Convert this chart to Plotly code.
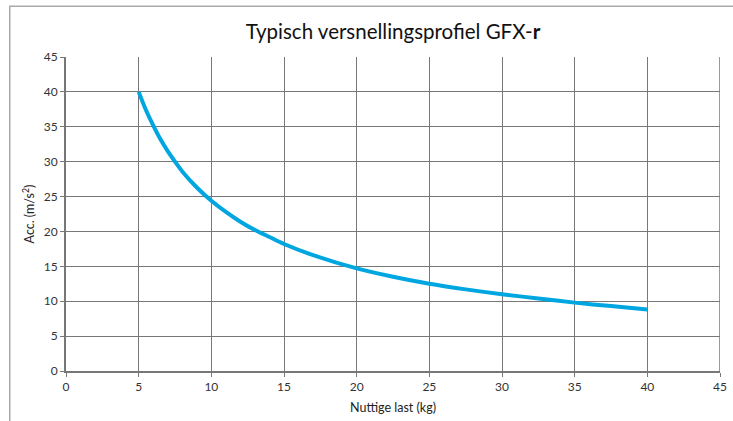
import plotly.graph_objects as go

payload_kg = [5, 5.5, 6, 6.5, 7, 7.5, 8, 9, 10, 11, 12, 13, 14, 15, 17, 20, 22.5, 25, 27.5, 30, 32.5, 35, 37.5, 40]
acc_ms2 = [40, 37.4, 35.2, 33.2, 31.5, 30.0, 28.6, 26.3, 24.4, 22.8, 21.4, 20.2, 19.2, 18.2, 16.6, 14.7, 13.5, 12.5, 11.7, 11.0, 10.4, 9.8, 9.3, 8.8]

x_ticks = [0, 5, 10, 15, 20, 25, 30, 35, 40, 45]
y_ticks = [0, 5, 10, 15, 20, 25, 30, 35, 40, 45]

title_text = "Typisch versnellingsprofiel GFX-<b>r</b>"
x_title = "Nuttige last (kg)"
y_title = "Acc. (m/s<sup>2</sup>)"

font_family = "Lato, Open Sans, DejaVu Sans, sans-serif"

fig = go.Figure()
fig.add_trace(go.Scatter(
    x=payload_kg, y=acc_ms2, mode="lines",
    line=dict(color="#00a6e0", width=4, shape="spline", smoothing=0.8),
    hoverinfo="x+y", showlegend=False,
))

fig.update_layout(
    width=733, height=421,
    margin=dict(l=66, r=13, t=57, b=50, autoexpand=False),
    paper_bgcolor="white", plot_bgcolor="white",
    font=dict(family=font_family, color="#333333", size=12),
    title=dict(text=title_text, x=(66 + 720) / 2 / 733, xanchor="center",
               y=1 - 32 / 421, yanchor="middle",
               font=dict(size=20.5, color="#111111", family=font_family)),
    shapes=[
        dict(type="line", xref="paper", yref="paper", x0=-0.086, x1=-0.086,
             y0=1.162, y1=-0.2, line=dict(color="#aaaaaa", width=1.5)),
        dict(type="line", xref="paper", yref="paper", x0=-0.087, x1=1.03,
             y0=1.162, y1=1.162, line=dict(color="#aaaaaa", width=1.5)),
    ],
)

fig.update_xaxes(
    range=[0, 45], tickvals=x_ticks, ticktext=[str(v) for v in x_ticks],
    showgrid=True, gridcolor="#777777", gridwidth=1.2,
    showline=True, linecolor="#777777", linewidth=2, mirror=False,
    ticks="outside", ticklen=4, tickcolor="#777777", automargin=False,
    zeroline=False, tickfont=dict(size=12, color="#333333"),
    title=dict(text=x_title, font=dict(size=12.5, color="#222222"), standoff=10),
)
fig.update_yaxes(
    range=[0, 45], tickvals=y_ticks, ticktext=[str(v) for v in y_ticks],
    showgrid=True, gridcolor="#777777", gridwidth=1.2,
    showline=True, linecolor="#777777", linewidth=2, automargin=False,
    ticks="outside", ticklen=4, tickcolor="#777777",
    zeroline=False, tickfont=dict(size=12, color="#333333"),
    title=dict(text=y_title, font=dict(size=12.5, color="#222222"), standoff=6),
)
# right border of plot area
fig.add_shape(type="line", xref="x", yref="paper", x0=45, x1=45, y0=0, y1=1,
              line=dict(color="#777777", width=1.5))

fig.write_html("out.html", config={"displayModeBar": False},
               post_script="document.body.style.margin='0';")
